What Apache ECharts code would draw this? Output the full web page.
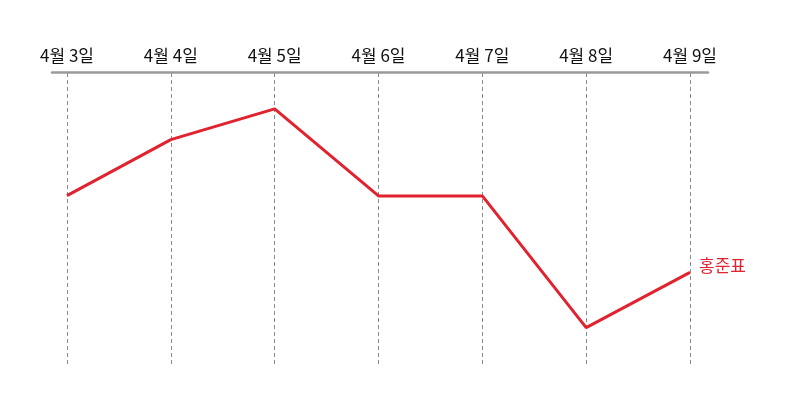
<!DOCTYPE html>
<html>
<head>
<meta charset="utf-8">
<script src="https://cdn.jsdelivr.net/npm/echarts@6/dist/echarts.min.js"></script>
<style>
  html, body { margin: 0; padding: 0; background: #fff; }
  #main { width: 800px; height: 407px; }
</style>
</head>
<body>
<div id="main"></div>
<script>
var days = ['4월 3일', '4월 4일', '4월 5일', '4월 6일', '4월 7일', '4월 8일', '4월 9일'];
var hongValues = [58, 77.2, 87.7, 57.9, 57.9, 12.8, 31.7];
var seriesName = '홍준표';

var font = '"Noto Sans CJK KR", "Noto Sans", sans-serif';
var red = '#e1222f';

var chart = echarts.init(document.getElementById('main'));

var option = {
  backgroundColor: '#ffffff',
  animation: false,
  grid: [
    { left: 67, right: 110, top: 73, bottom: 42 },
    // 축선만 그리기 위한 보조 grid
    { left: 52, right: 92, top: 72, bottom: 42 }
  ],
  xAxis: [{
    type: 'category',
    gridIndex: 0,
    data: days,
    position: 'top',
    boundaryGap: false,
    axisLine: { show: false },
    axisTick: { show: false },
    axisLabel: {
      color: '#111',
      fontSize: 17,
      fontFamily: font,
      margin: 9
    },
    splitLine: {
      show: true,
      lineStyle: { color: '#8a8a8a', width: 1, type: [4, 3] }
    }
  }, {
    type: 'value',
    gridIndex: 1,
    position: 'top',
    min: 0,
    max: 1,
    axisLine: { show: true, onZero: false, lineStyle: { color: '#9a9a9a', width: 2.5 } },
    axisTick: { show: false },
    axisLabel: { show: false },
    splitLine: { show: false }
  }],
  yAxis: [{
    type: 'value',
    gridIndex: 0,
    min: 0,
    max: 100,
    show: false
  }, {
    type: 'value',
    gridIndex: 1,
    min: 0,
    max: 1,
    show: false
  }],
  series: [{
    name: seriesName,
    type: 'line',
    xAxisIndex: 0,
    yAxisIndex: 0,
    data: hongValues,
    symbol: 'none',
    lineStyle: { color: red, width: 3 },
    endLabel: {
      show: true,
      formatter: seriesName,
      color: red,
      fontSize: 17,
      fontFamily: font,
      distance: 9,
      offset: [0, -7]
    }
  }]
};

chart.setOption(option);
</script>
</body>
</html>
